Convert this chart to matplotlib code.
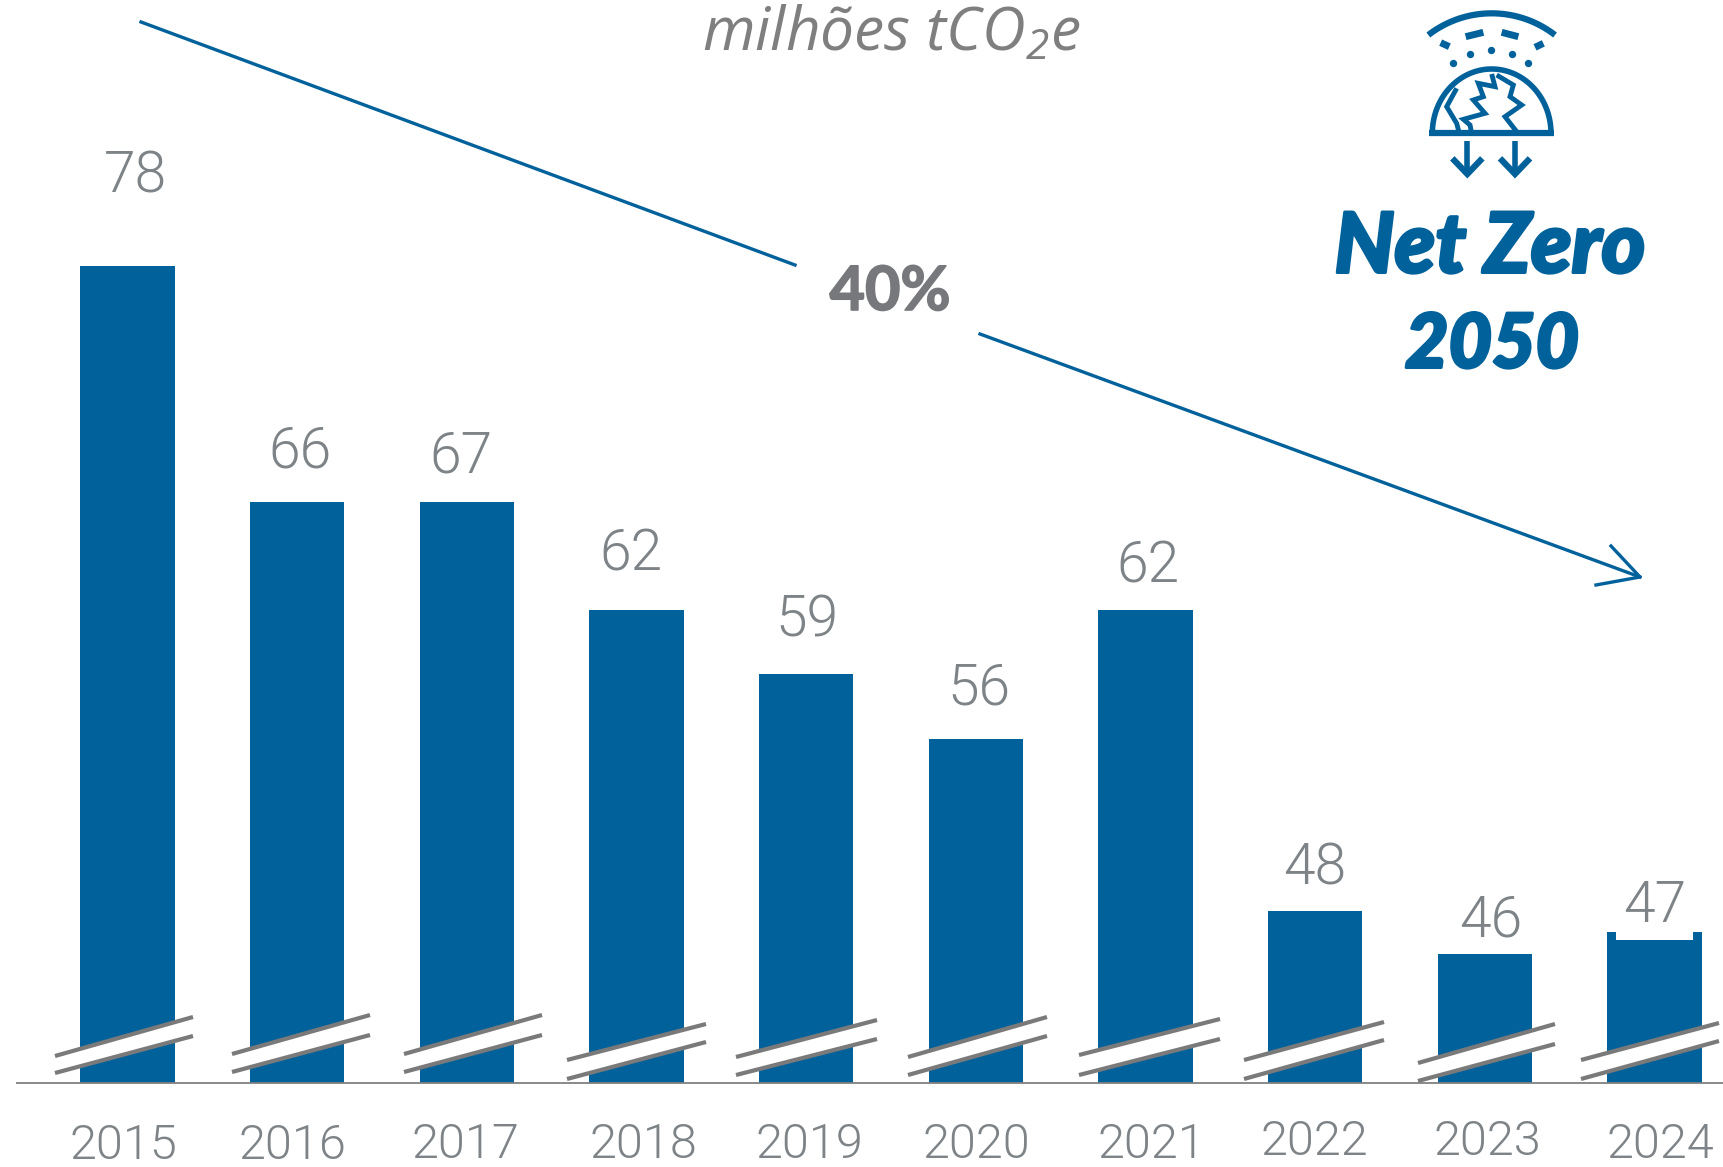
import numpy as np
import matplotlib
matplotlib.use('Agg')
import matplotlib.pyplot as plt
import matplotlib.patheffects as pe

plt.rcParams['font.family'] = ['Lato', 'DejaVu Sans']
plt.rcParams['mathtext.fontset'] = 'custom'
plt.rcParams['mathtext.rm'] = 'Open Sans:italic'
plt.rcParams['mathtext.it'] = 'Open Sans:italic'

years = ['2015', '2016', '2017', '2018', '2019', '2020', '2021', '2022', '2023', '2024']
labels = ['78', '66', '67', '62', '59', '56', '62', '48', '46', '47']
# altura desenhada na figura original (2016 aparece igual a 2017)
heights = [78, 67, 67, 62, 59, 56, 62, 48, 46, 47]
axis_floor = 40

BLUE = '#00619B'
GRAY = '#7d8387'
W, H = 1723, 1167

# posicoes dos textos (px)
label_x = [135, 300, 461, 631, 807, 979, 1148, 1315, 1491, 1655]
label_y = [177, 452, 457, 555, 621, 689, 567, 869, 921, 907]
year_x = [123, 292, 465, 643, 809, 976, 1151, 1314, 1487, 1660]
year_y = [1146, 1146, 1145, 1145, 1145, 1145, 1145, 1142, 1142, 1145]

# marcas de quebra: x esq, x dir, y sup esq, y sup dir, y inf esq, y inf dir
breaks = [
    (55, 193, 1056, 1017, 1073, 1036),
    (232, 370, 1054, 1015, 1072, 1035),
    (404, 542, 1054, 1015, 1072, 1035),
    (567, 706, 1060, 1024, 1079, 1042),
    (736, 877, 1057, 1020, 1075, 1039),
    (908, 1047, 1057, 1017, 1075, 1036),
    (1079, 1220, 1055, 1019, 1075, 1039),
    (1244, 1384, 1060, 1022, 1079, 1040),
    (1418, 1555, 1063, 1024, 1081, 1044),
    (1581, 1719, 1060, 1023, 1079, 1041),
]

fig = plt.figure(figsize=(W / 100, H / 100), dpi=100)
ax = fig.add_axes([0, 0, 1, 1])
x = np.arange(len(years))
ax.bar(x, np.array(heights) - axis_floor, bottom=axis_floor, width=0.556, color=BLUE)

# eixos ajustados para bater com a figura (px por categoria / px por unidade)
px_cat = 154.4 * W / 1568
px_val = 19.56 * H / 1062
x0 = 116 * W / 1568
y0 = 1082.5
ax.set_xlim(-x0 / px_cat, (W - x0) / px_cat)
ax.set_ylim(axis_floor - (H - y0) / px_val, axis_floor + y0 / px_val)
ax.axis('off')
ax.hlines(axis_floor, ax.get_xlim()[0] + 16 / px_cat, ax.get_xlim()[1], color='#808080', lw=1.3, zorder=3)
# recorte no topo da barra de 2024
ax.bar(x[-1], 0.36, bottom=heights[-1] - 0.36, width=0.556 * 0.82, color='white', zorder=2)

# camada em pixels para anotacoes
ov = fig.add_axes([0, 0, 1, 1])
ov.set_xlim(0, W)
ov.set_ylim(H, 0)
ov.axis('off')
ov.patch.set_alpha(0)

for xl, xr, ul, ur, ll, lr in breaks:
    ov.fill([xl, xr, xr, xl], [ul, ur, lr, ll], color='white', lw=0)
    ov.plot([xl, xr], [ul, ur], color='#7a7a7a', lw=3, solid_capstyle='butt')
    ov.plot([xl, xr], [ll, lr], color='#7a7a7a', lw=3, solid_capstyle='butt')

for t, xp, yp in zip(labels, label_x, label_y):
    ov.text(xp, yp, t, fontsize=41, color=GRAY, ha='center', va='center', family='Roboto', fontweight=300)
for t, xp, yp in zip(years, year_x, year_y):
    ov.text(xp, yp, t, fontsize=35, color=GRAY, ha='center', va='center', family='Roboto', fontweight=300)

ov.text(891, 34, 'milhões tCO$_{2}$e', fontsize=43.5, color='#7f7f7f', ha='center', va='center',
        family='Open Sans', style='italic')
ov.text(890, 292, '40%', fontsize=44, color='#76787b', ha='center', va='center', fontweight='bold',
        path_effects=[pe.withStroke(linewidth=1.2, foreground='#76787b')])

# seta de tendencia
ov.plot([141, 795], [22, 265], color=BLUE, lw=2.4)
ov.plot([980, 1640], [334, 577], color=BLUE, lw=2.4)
ov.plot([1611, 1640, 1596], [546, 577, 585], color=BLUE, lw=2.4)

stroke = [pe.withStroke(linewidth=2.2, foreground=BLUE)]
ov.text(1490, 248, 'Net Zero', fontsize=60, color=BLUE, ha='center', va='center',
        fontweight='black', style='italic', path_effects=stroke)
ov.text(1492, 346, '2050', fontsize=54, color=BLUE, ha='center', va='center',
        fontweight='black', style='italic', path_effects=stroke)


# icone (coordenadas da ampliacao, 3x a partir de x=1300)
def icon(px, py, lw=4.0, **kw):
    ov.plot(1300 + np.array(px) / 3, np.array(py) / 3, color=BLUE, lw=lw,
            solid_capstyle='butt', solid_joinstyle='miter', **kw)


t = np.radians(np.linspace(232.2, 307.8, 60))
icon(575 + 310 * np.cos(t), 350 + 310 * np.sin(t), lw=4.5)
icon([497, 550], [110, 97], lw=5)
icon([605, 655], [97, 110], lw=5)
icon([422, 448], [128, 140], lw=5)
icon([705, 730], [142, 130], lw=5)
dots_x = [460, 510, 573, 636, 685]
dots_y = [190, 162, 150, 162, 190]
ov.scatter(1300 + np.array(dots_x) / 3, np.array(dots_y) / 3, s=28, color=BLUE, lw=0)
t = np.linspace(np.pi, 2 * np.pi, 80)
icon(575 + 178 * np.cos(t), 400 + 193 * np.sin(t))
icon([388, 762], [400, 400], lw=4.5)
icon([470, 440, 470, 478], [265, 320, 370, 400], lw=3.5)
icon([575, 585, 535, 550, 520, 555, 490, 510, 515], [222, 260, 250, 290, 300, 340, 358, 375, 400], lw=3.5)
icon([590, 640, 630, 665, 615, 650], [225, 255, 290, 315, 350, 395], lw=3.5)
for ax_x in [502, 645]:
    icon([ax_x, ax_x], [422, 525])
    icon([ax_x - 45, ax_x, ax_x + 45], [475, 522, 475], lw=4.5)

plt.savefig('out.png', dpi=100)
